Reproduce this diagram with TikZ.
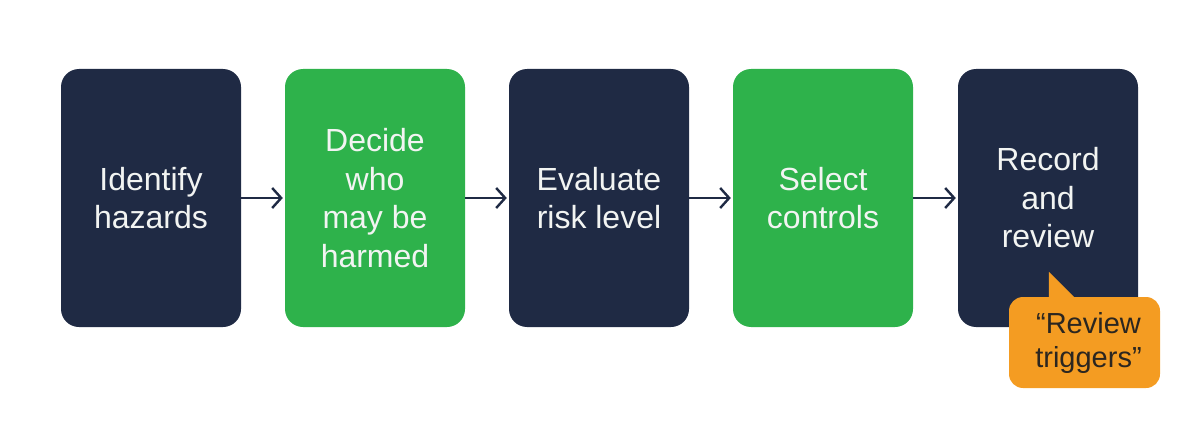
\documentclass[tikz,border=0pt]{standalone}
\usepackage{fontspec}
\setmainfont{Liberation Sans}
\usetikzlibrary{arrows.meta}
\definecolor{navy}{HTML}{1F2A44}
\definecolor{grn}{HTML}{2EB24B}
\definecolor{org}{HTML}{F49C22}
\definecolor{txt}{HTML}{F2F4F2}
\definecolor{ctxt}{HTML}{2B2620}
\begin{document}
\begin{tikzpicture}[x=1pt,y=-1pt,
  stepbox/.style={minimum width=180pt,minimum height=258pt,rounded corners=18pt,
    align=center,text=txt,inner sep=0pt,font=\fontsize{32}{38.5}\selectfont},
  darkbox/.style={stepbox,fill=navy},
  greenbox/.style={stepbox,fill=grn},
  flow/.style={draw=navy,line width=2.4pt,-{Straight Barb[length=9pt,width=20pt]},shorten >=2pt},
  callout/.style={fill=org,rounded corners=14pt,minimum width=151pt,minimum height=91pt,
    align=center,text=ctxt,inner sep=0pt,font=\fontsize{29}{34}\selectfont}]
\useasboundingbox (0,0) rectangle (1200,436);
\node[darkbox]  (b1) at (151,198) {Identify\\hazards};
\node[greenbox] (b2) at (375,198) {Decide\\who\\may be\\harmed};
\node[darkbox]  (b3) at (599,198) {Evaluate\\risk level};
\node[greenbox] (b4) at (823,198) {Select\\controls};
\node[darkbox]  (b5) at (1048,198) {Record\\and\\review};
\draw[flow] (b1) -- (b2);
\draw[flow] (b2) -- (b3);
\draw[flow] (b3) -- (b4);
\draw[flow] (b4) -- (b5);
\node[callout] (c) at (1084.5,342.5) {};
\fill[org] ([xshift=40pt,yshift=-2pt]c.north west) -- ([xshift=40pt,yshift=25pt]c.north west) -- ([xshift=67pt,yshift=-2pt]c.north west) -- cycle;
\node[callout,fill=none] at ([xshift=4pt]c.center) {``Review\\triggers''};
\end{tikzpicture}
\end{document}
